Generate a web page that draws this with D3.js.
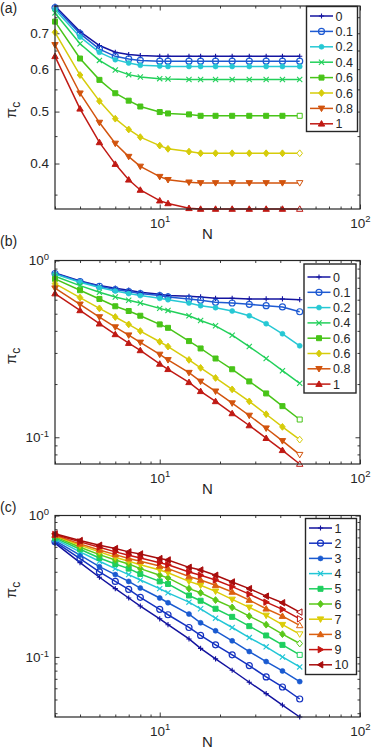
<!DOCTYPE html>
<html>
<head>
<meta charset="utf-8">
<script src="https://cdn.jsdelivr.net/npm/d3@7"></script>
<style>
    body { margin: 0; background: #fff; }
    svg text { font-family: "Liberation Sans", Arial, Helvetica, sans-serif; fill: #262626; }
</style>
</head>
<body>
<div id="chart"></div>
<script>

// N values (x axis, log)
const nValues = [3, 4, 5, 6, 7, 8, 10, 11, 14, 16, 19, 23, 28, 34, 41, 50];

// legend labels
const labelsAB = ["0", "0.1", "0.2", "0.4", "0.6", "0.6", "0.8", "1"];
const labelsC = ["1", "2", "3", "4", "5", "6", "7", "8", "9", "10"];

// panel (a)
const seriesA = [
    [0.787, 0.705, 0.664, 0.645, 0.639, 0.636, 0.634, 0.634, 0.634, 0.634, 0.634, 0.634, 0.634, 0.634, 0.634, 0.634],
    [0.782, 0.699, 0.654, 0.634, 0.627, 0.623, 0.621, 0.621, 0.621, 0.621, 0.621, 0.621, 0.621, 0.621, 0.621, 0.621],
    [0.775, 0.689, 0.645, 0.625, 0.616, 0.610, 0.608, 0.607, 0.607, 0.607, 0.607, 0.607, 0.607, 0.607, 0.607, 0.607],
    [0.764, 0.669, 0.623, 0.598, 0.586, 0.580, 0.576, 0.575, 0.574, 0.574, 0.574, 0.574, 0.574, 0.574, 0.574, 0.574],
    [0.736, 0.628, 0.573, 0.541, 0.524, 0.511, 0.499, 0.496, 0.494, 0.491, 0.491, 0.491, 0.491, 0.491, 0.491, 0.491],
    [0.703, 0.585, 0.523, 0.485, 0.463, 0.448, 0.432, 0.426, 0.421, 0.418, 0.418, 0.418, 0.418, 0.418, 0.418, 0.418],
    [0.666, 0.541, 0.477, 0.436, 0.412, 0.395, 0.378, 0.373, 0.369, 0.368, 0.368, 0.368, 0.368, 0.368, 0.368, 0.368],
    [0.634, 0.506, 0.438, 0.399, 0.373, 0.357, 0.341, 0.337, 0.330, 0.329, 0.329, 0.329, 0.329, 0.329, 0.329, 0.329]
];

// panel (b)
const seriesB = [
    [0.851, 0.767, 0.721, 0.697, 0.679, 0.661, 0.644, 0.633, 0.627, 0.622, 0.611, 0.611, 0.606, 0.606, 0.606, 0.600],
    [0.844, 0.760, 0.715, 0.685, 0.667, 0.650, 0.633, 0.622, 0.606, 0.596, 0.580, 0.575, 0.565, 0.555, 0.546, 0.513],
    [0.837, 0.754, 0.703, 0.673, 0.650, 0.633, 0.611, 0.600, 0.575, 0.555, 0.541, 0.518, 0.487, 0.439, 0.385, 0.329],
    [0.815, 0.721, 0.661, 0.622, 0.596, 0.575, 0.536, 0.522, 0.487, 0.458, 0.427, 0.378, 0.326, 0.279, 0.238, 0.202],
    [0.787, 0.679, 0.606, 0.551, 0.518, 0.487, 0.435, 0.416, 0.350, 0.318, 0.279, 0.2425, 0.207, 0.177, 0.150, 0.126],
    [0.740, 0.617, 0.536, 0.479, 0.435, 0.399, 0.347, 0.326, 0.274, 0.247, 0.2165, 0.1866, 0.1596, 0.135, 0.1145, 0.097],
    [0.697, 0.565, 0.479, 0.420, 0.378, 0.344, 0.294, 0.274, 0.232, 0.207, 0.182, 0.156, 0.1328, 0.1125, 0.0954, 0.0797],
    [0.650, 0.522, 0.439, 0.382, 0.341, 0.310, 0.260, 0.2425, 0.2046, 0.182, 0.1596, 0.1364, 0.1166, 0.0988, 0.0844, 0.0706]
];

// panel (c)
const seriesC = [
    [0.637, 0.464, 0.366, 0.304, 0.261, 0.229, 0.186, 0.169, 0.134, 0.115, 0.0968, 0.0805, 0.0662, 0.0550, 0.0457, 0.0376],
    [0.651, 0.496, 0.399, 0.342, 0.300, 0.264, 0.217, 0.1987, 0.1615, 0.1418, 0.1217, 0.1034, 0.0869, 0.0722, 0.0613, 0.0504],
    [0.665, 0.524, 0.435, 0.382, 0.342, 0.307, 0.261, 0.2416, 0.2009, 0.1743, 0.1530, 0.1299, 0.1092, 0.0927, 0.0796, 0.0669],
    [0.680, 0.553, 0.475, 0.421, 0.382, 0.350, 0.304, 0.284, 0.244, 0.219, 0.188, 0.1615, 0.137, 0.1178, 0.1000, 0.0850],
    [0.695, 0.577, 0.501, 0.454, 0.421, 0.386, 0.342, 0.328, 0.272, 0.2496, 0.219, 0.192, 0.165, 0.1418, 0.1217, 0.1034],
    [0.710, 0.597, 0.529, 0.485, 0.454, 0.421, 0.378, 0.362, 0.304, 0.284, 0.2524, 0.224, 0.1944, 0.169, 0.1449, 0.1244],
    [0.718, 0.616, 0.553, 0.507, 0.475, 0.449, 0.412, 0.394, 0.342, 0.321, 0.291, 0.255, 0.224, 0.1965, 0.169, 0.1449],
    [0.726, 0.630, 0.571, 0.529, 0.496, 0.475, 0.440, 0.421, 0.370, 0.350, 0.321, 0.288, 0.2524, 0.219, 0.1944, 0.167],
    [0.734, 0.651, 0.597, 0.553, 0.524, 0.501, 0.464, 0.449, 0.399, 0.378, 0.350, 0.314, 0.278, 0.244, 0.217, 0.186],
    [0.742, 0.665, 0.616, 0.584, 0.553, 0.535, 0.496, 0.485, 0.430, 0.412, 0.378, 0.339, 0.304, 0.269, 0.2416, 0.2075]
];

const colorsAB = ["#1414a0", "#1e5ad2", "#26c8d4", "#22d05a", "#48c418", "#d6cc0a", "#d2540e", "#c01a14"];
const colorsC = ["#12129e", "#1432c0", "#1a5ad0", "#22c6d6", "#1ecf5e", "#5ac81a", "#dccc08", "#dc6010", "#c41410", "#a80c0c"];
const markersAB = ["+", "o", ".", "x", "s", "d", "v", "^"];
const markersC = ["+", "o", ".", "x", "s", "d", "v", "^", ">", "<"];

const yTicksA = [0.4, 0.5, 0.6, 0.7];
const yMinorA = [0.35, 0.45, 0.55, 0.65, 0.75];
const xTicks = [10, 100];

const W = 374, H = 755;
const LEFT = 55, RIGHT = 360;
const AXIS = "#262626";

const svg = d3.select("#chart").append("svg")
    .attr("width", W)
    .attr("height", H);

const x = d3.scaleLog().domain([3, 100]).range([LEFT, RIGHT]);

const xMinor = [3, 4, 5, 6, 7, 8, 9, 20, 30, 40, 50, 60, 70, 80, 90];
const logMinor = [0.03, 0.04, 0.05, 0.06, 0.07, 0.08, 0.09, 0.2, 0.3, 0.4, 0.5, 0.6, 0.7, 0.8, 0.9];

const panels = [
    {tag: "(a)", tagY: 12.5, series: seriesA, labels: labelsAB, colors: colorsAB, markers: markersAB,
        top: 6, bottom: 209, log: false, yLabelY: 110,
        legend: {x0: 306.5, x1: 357.5, y0: 6.5, y1: 131.5, row0: 16, step: 15.4}},
    {tag: "(b)", tagY: 246, series: seriesB, labels: labelsAB, colors: colorsAB, markers: markersAB,
        top: 260.5, bottom: 464, log: true, yLabelY: 356,
        legend: {x0: 304, x1: 356, y0: 264, y1: 393, row0: 277, step: 15.3}},
    {tag: "(c)", tagY: 512, series: seriesC, labels: labelsC, colors: colorsC, markers: markersC,
        top: 515.5, bottom: 717, log: true, yLabelY: 590,
        legend: {x0: 305.5, x1: 356.5, y0: 518.5, y1: 674.5, row0: 528, step: 15.2}}
];

function markerPath(type) {
    const s = 2.6;
    switch (type) {
        case "+": return `M${-s},0H${s}M0,${-s}V${s}`;
        case "x": return `M${-s},${-s}L${s},${s}M${-s},${s}L${s},${-s}`;
        case "s": return `M${-2.5},${-2.5}H2.5V2.5H${-2.5}Z`;
        case "d": return `M0,${-3.4}L2.8,0L0,3.4L-2.8,0Z`;
        case "v": return `M-3.2,-2.3H3.2L0,3.2Z`;
        case "^": return `M-3.2,2.3H3.2L0,-3.2Z`;
        case ">": return `M-2.3,-3.2V3.2L3.2,0Z`;
        case "<": return `M2.3,-3.2V3.2L-3.2,0Z`;
    }
    return null;
}

function drawMarker(g, type, cx, cy, color, hollow) {
    if (type === "o") {
        g.append("circle").attr("cx", cx).attr("cy", cy).attr("r", 3)
            .attr("fill", "none").attr("stroke", color).attr("stroke-width", 1.2);
        return;
    }
    if (type === ".") {
        g.append("circle").attr("cx", cx).attr("cy", cy).attr("r", 2.5)
            .attr("fill", color).attr("stroke", color).attr("stroke-width", 0.6);
        return;
    }
    const open = (type === "+" || type === "x");
    g.append("path")
        .attr("d", markerPath(type))
        .attr("transform", `translate(${cx},${cy})`)
        .attr("fill", open ? "none" : (hollow ? "#fff" : color))
        .attr("stroke", color)
        .attr("stroke-width", open ? 1.1 : 1);
}

function supLabel(sel, exp) {
    sel.text(null);
    sel.append("tspan").text("10");
    sel.append("tspan").attr("dy", "-0.55em").attr("font-size", "9.5px").text(exp);
}

panels.forEach(p => {
    let vis = svg.append("g");

    let all = p.series.flat();
    let yDomain = p.log ? [d3.min(all), 1] : d3.extent(all);
    let y = d3.scaleLog().domain(yDomain).range([p.bottom, p.top]);

    let yMajor = p.log ? [0.1, 1] : yTicksA;
    let yMinor = (p.log ? logMinor : yMinorA).filter(v => v >= yDomain[0] && v <= yDomain[1]);

    // minor ticks
    vis.append("g").attr("transform", `translate(0,${p.bottom})`)
        .call(d3.axisBottom(x).tickValues(xMinor).tickSize(-2.5).tickSizeOuter(0).tickFormat(""));
    vis.append("g").attr("transform", `translate(0,${p.top})`)
        .call(d3.axisTop(x).tickValues(xMinor).tickSize(-2.5).tickSizeOuter(0).tickFormat(""));
    vis.append("g").attr("transform", `translate(${LEFT},0)`)
        .call(d3.axisLeft(y).tickValues(yMinor).tickSize(-2.5).tickSizeOuter(0).tickFormat(""));
    vis.append("g").attr("transform", `translate(${RIGHT},0)`)
        .call(d3.axisRight(y).tickValues(yMinor).tickSize(-2.5).tickSizeOuter(0).tickFormat(""));

    // major ticks
    let xb = vis.append("g").attr("transform", `translate(0,${p.bottom})`)
        .call(d3.axisBottom(x).tickValues(xTicks).tickSize(-4.5).tickSizeOuter(0).tickPadding(9));
    xb.selectAll("text").attr("font-size", "13.5px").each(function(d) {
        supLabel(d3.select(this), Math.round(Math.log10(d)));
    });
    vis.append("g").attr("transform", `translate(0,${p.top})`)
        .call(d3.axisTop(x).tickValues(xTicks).tickSize(-4.5).tickSizeOuter(0).tickFormat(""));

    let yl = vis.append("g").attr("transform", `translate(${LEFT},0)`)
        .call(d3.axisLeft(y).tickValues(yMajor).tickSize(-4.5).tickSizeOuter(0).tickPadding(6)
            .tickFormat(p.log ? null : d3.format(".1f")));
    yl.selectAll("text").attr("font-size", "13.5px");
    if (p.log) {
        yl.selectAll("text").each(function(d) {
            supLabel(d3.select(this), Math.round(Math.log10(d)));
        });
    }
    vis.append("g").attr("transform", `translate(${RIGHT},0)`)
        .call(d3.axisRight(y).tickValues(yMajor).tickSize(-4.5).tickSizeOuter(0).tickFormat(""));

    vis.selectAll(".domain").remove();
    vis.selectAll(".tick line").attr("stroke", AXIS).attr("stroke-width", 0.9);

    // lines + markers
    let line = d3.line()
        .x((d, i) => x(nValues[i]))
        .y(d => y(d));

    p.series.forEach((s, k) => {
        vis.append("path")
            .datum(s)
            .attr("d", line)
            .attr("fill", "none")
            .attr("stroke", p.colors[k])
            .attr("stroke-width", 1.5);
        let mg = vis.append("g");
        s.forEach((v, i) => {
            drawMarker(mg, p.markers[k], x(nValues[i]), y(v), p.colors[k], i === s.length - 1);
        });
    });

    // box
    vis.append("rect")
        .attr("x", LEFT).attr("y", p.top)
        .attr("width", RIGHT - LEFT).attr("height", p.bottom - p.top)
        .attr("fill", "none").attr("stroke", AXIS).attr("stroke-width", 1.2);

    // axis titles
    vis.append("text")
        .attr("x", (LEFT + RIGHT) / 2)
        .attr("y", p.bottom + 30)
        .attr("text-anchor", "middle")
        .attr("font-size", "15px")
        .text("N");

    let yt = vis.append("text")
        .attr("transform", `translate(16,${p.yLabelY}) rotate(-90)`)
        .attr("text-anchor", "middle")
        .attr("font-size", "15px");
    yt.append("tspan").text("π");
    yt.append("tspan").attr("dy", "0.3em").attr("font-size", "12px").text("c");

    vis.append("text")
        .attr("x", 0)
        .attr("y", p.tagY)
        .attr("font-size", "14px")
        .text(p.tag);

    // legend
    let L = p.legend;
    let lg = vis.append("g");
    lg.append("rect")
        .attr("x", L.x0).attr("y", L.y0)
        .attr("width", L.x1 - L.x0).attr("height", L.y1 - L.y0)
        .attr("fill", "#fff").attr("stroke", AXIS).attr("stroke-width", 1.4);
    p.labels.forEach((lab, k) => {
        let ry = L.row0 + k * L.step;
        lg.append("line")
            .attr("x1", L.x0 + 3.5).attr("x2", L.x0 + 26.5)
            .attr("y1", ry).attr("y2", ry)
            .attr("stroke", p.colors[k]).attr("stroke-width", 1.5);
        drawMarker(lg, p.markers[k], L.x0 + 15, ry, p.colors[k], false);
        lg.append("text")
            .attr("x", L.x0 + 29)
            .attr("y", ry)
            .attr("dy", "0.36em")
            .attr("font-size", "12.5px")
            .text(lab);
    });
});

</script>
</body>
</html>
